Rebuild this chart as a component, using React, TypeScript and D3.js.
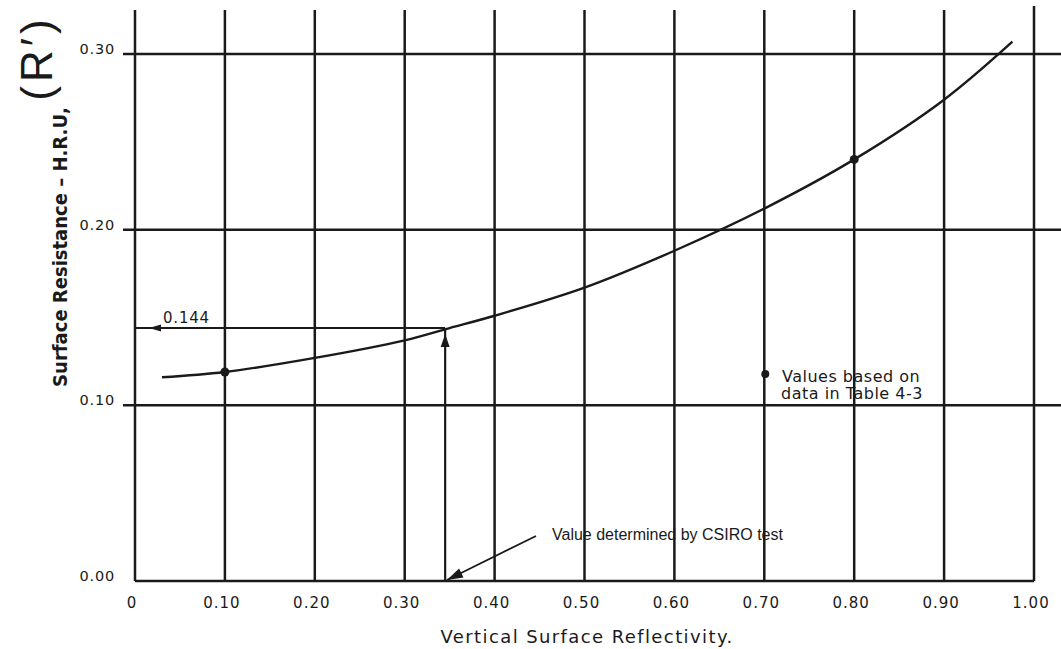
import React, { useEffect, useRef } from 'react';
import * as d3 from 'd3';

// reflectivity vs surface resistance
const reflectivity = [0.03, 0.1, 0.2, 0.3, 0.35, 0.4, 0.5, 0.6, 0.7, 0.8, 0.9, 0.976];
const resistance = [0.116, 0.119, 0.127, 0.137, 0.144, 0.151, 0.167, 0.188, 0.212, 0.24, 0.274, 0.307];

// points marked as "Values based on data in Table 4-3"
const tableX = [0.1, 0.8];
const tableY = [0.119, 0.24];

const xTicks = [0, 0.1, 0.2, 0.3, 0.4, 0.5, 0.6, 0.7, 0.8, 0.9, 1.0];
const xTickLabels = ['0', '0.10', '0.20', '0.30', '0.40', '0.50', '0.60', '0.70', '0.80', '0.90', '1.00'];
const yTicks = [0, 0.1, 0.2, 0.3];
const yTickLabels = ['0.00', '0.10', '0.20', '0.30'];

const csiroX = 0.345;
const csiroY = 0.144;

const W = 1061;
const H = 649;
const INK = '#1a1a1a';
const WIDE = '"DejaVu Sans", Verdana, sans-serif';
const PLAIN = '"Liberation Sans", Arial, sans-serif';
const NARROW = '"Liberation Sans Narrow", "DejaVu Sans Condensed", sans-serif';

const App: React.FC = () => {
  const svgRef = useRef<SVGSVGElement>(null);

  useEffect(() => {
    if (!svgRef.current) return;
    const svg = d3.select(svgRef.current);
    svg.selectAll('*').remove();

    const x = d3.scaleLinear().domain([0, 1]).range([135, 1034]);
    const y = d3.scaleLinear().domain([0, 0.3]).range([581, 54]);

    svg.append('rect').attr('width', W).attr('height', H).attr('fill', '#fff');

    // horizontal grid
    const g = svg.append('g').attr('stroke', INK).attr('stroke-width', 2.5);
    g.selectAll('line.h')
      .data(yTicks)
      .enter()
      .append('line')
      .attr('x1', (d) => (d === 0 ? x(0) : x(0) - 12))
      .attr('x2', (d) => (d === 0 ? x(1) : W))
      .attr('y1', (d) => y(d))
      .attr('y2', (d) => y(d));

    // vertical grid
    g.selectAll('line.v')
      .data(xTicks)
      .enter()
      .append('line')
      .attr('x1', (d) => x(d))
      .attr('x2', (d) => x(d))
      .attr('y1', (d) => (d === 1 ? 6 : 10))
      .attr('y2', y(0));

    // tick labels
    svg.append('g')
      .selectAll('text')
      .data(yTicks)
      .enter()
      .append('text')
      .attr('x', 115)
      .attr('y', (d) => y(d))
      .attr('text-anchor', 'end')
      .attr('font-family', WIDE)
      .attr('font-size', 14.5)
      .attr('letter-spacing', 0.8)
      .attr('fill', INK)
      .text((_, i) => yTickLabels[i]);

    svg.append('g')
      .selectAll('text')
      .data(xTicks)
      .enter()
      .append('text')
      .attr('x', (d) => x(d) - 3)
      .attr('y', 608)
      .attr('text-anchor', 'middle')
      .attr('font-family', WIDE)
      .attr('font-size', 15)
      .attr('letter-spacing', 1)
      .attr('fill', INK)
      .text((_, i) => xTickLabels[i]);

    // curve
    const line = d3.line<number>()
      .x((d) => x(d))
      .y((_, i) => y(resistance[i]))
      .curve(d3.curveCatmullRom.alpha(0.5));

    svg.append('path')
      .attr('d', line(reflectivity) || '')
      .attr('fill', 'none')
      .attr('stroke', INK)
      .attr('stroke-width', 2.4);

    svg.selectAll('circle.pt')
      .data(tableX)
      .enter()
      .append('circle')
      .attr('cx', (d) => x(d))
      .attr('cy', (_, i) => y(tableY[i]))
      .attr('r', 4.5)
      .attr('fill', INK);

    // 0.144 reading
    const cx = x(csiroX);
    const cy = y(csiroY);
    svg.append('line')
      .attr('x1', cx)
      .attr('x2', x(0))
      .attr('y1', cy)
      .attr('y2', cy)
      .attr('stroke', INK)
      .attr('stroke-width', 2);
    svg.append('path')
      .attr('d', `M${x(0) + 14},${cy} L${x(0) + 26},${cy - 3.5} L${x(0) + 26},${cy + 3.5} Z`)
      .attr('fill', INK);

    svg.append('line')
      .attr('x1', cx)
      .attr('x2', cx)
      .attr('y1', y(0))
      .attr('y2', cy)
      .attr('stroke', INK)
      .attr('stroke-width', 2.2);
    svg.append('path')
      .attr('d', `M${cx - 4.5},${cy + 19} L${cx},${cy + 6} L${cx + 4.5},${cy + 19} Z`)
      .attr('fill', INK);

    svg.append('text')
      .attr('x', 163)
      .attr('y', cy - 5)
      .attr('font-family', WIDE)
      .attr('font-size', 15)
      .attr('letter-spacing', 0.8)
      .attr('fill', INK)
      .text('0.144');

    // CSIRO annotation
    const tipX = x(0.347);
    const tipY = y(0) - 1;
    const fromX = 536;
    const fromY = 536;
    const ang = Math.atan2(tipY - fromY, tipX - fromX);
    const hl = 16;
    const hw = 5;
    svg.append('line')
      .attr('x1', fromX)
      .attr('y1', fromY)
      .attr('x2', tipX)
      .attr('y2', tipY)
      .attr('stroke', INK)
      .attr('stroke-width', 1.8);
    svg.append('path')
      .attr(
        'd',
        `M${tipX},${tipY} L${tipX - hl * Math.cos(ang) + hw * Math.sin(ang)},${tipY - hl * Math.sin(ang) - hw * Math.cos(ang)} L${tipX - hl * Math.cos(ang) - hw * Math.sin(ang)},${tipY - hl * Math.sin(ang) + hw * Math.cos(ang)} Z`
      )
      .attr('fill', INK);

    svg.append('text')
      .attr('x', 552)
      .attr('y', 540)
      .attr('font-family', PLAIN)
      .attr('font-size', 16)
      .attr('fill', INK)
      .text('Value determined by CSIRO test');

    // legend
    svg.append('circle').attr('cx', x(0.7) + 1).attr('cy', 374).attr('r', 4).attr('fill', INK);
    svg.append('text')
      .attr('x', 782)
      .attr('y', 382)
      .attr('font-family', WIDE)
      .attr('font-size', 16)
      .attr('letter-spacing', 0.5)
      .attr('fill', INK)
      .text('Values based on');
    svg.append('text')
      .attr('x', 781)
      .attr('y', 399)
      .attr('font-family', WIDE)
      .attr('font-size', 16)
      .attr('letter-spacing', 0.5)
      .attr('fill', INK)
      .text('data in Table 4-3');

    // axis titles
    svg.append('text')
      .attr('x', 587)
      .attr('y', 643)
      .attr('text-anchor', 'middle')
      .attr('font-family', WIDE)
      .attr('font-size', 18)
      .attr('letter-spacing', 1.4)
      .attr('fill', INK)
      .text('Vertical Surface Reflectivity.');

    svg.append('text')
      .attr('transform', 'translate(67,247) rotate(-90)')
      .attr('text-anchor', 'middle')
      .attr('font-family', NARROW)
      .attr('font-weight', 'bold')
      .attr('font-size', 20)
      .attr('fill', INK)
      .text('Surface Resistance \u2013 H.R.U,');

    svg.append('text')
      .attr('transform', 'translate(52,58) rotate(-90)')
      .attr('text-anchor', 'middle')
      .attr('font-family', PLAIN)
      .attr('font-size', 44)
      .attr('letter-spacing', 4)
      .attr('fill', INK)
      .text('(R\u2032)');
  }, []);

  return (
    <svg
      ref={svgRef}
      width={W}
      height={H}
      style={{ position: 'absolute', left: 0, top: 0, display: 'block' }}
    />
  );
};

export default App;
